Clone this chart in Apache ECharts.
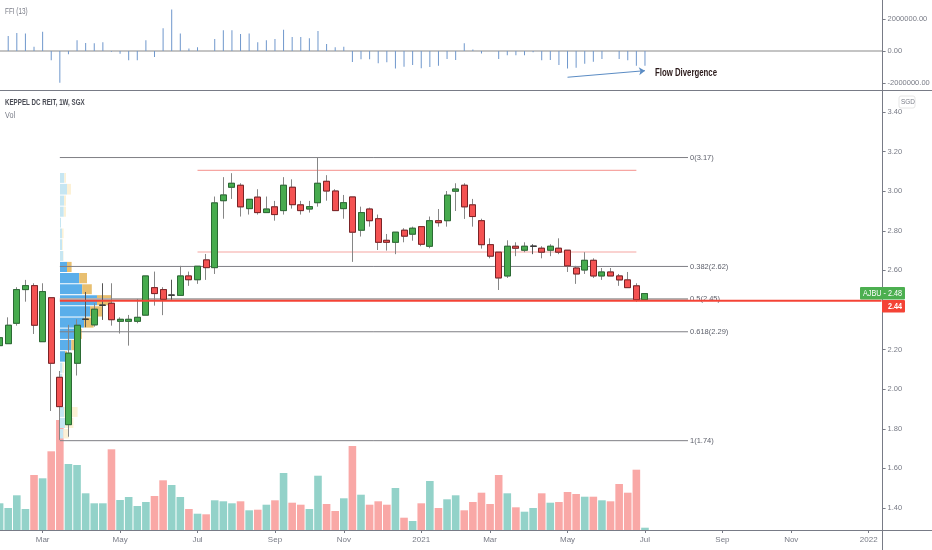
<!DOCTYPE html>
<html>
<head>
<meta charset="utf-8">
<style>
	html, body { margin: 0; padding: 0; background: #fff; }
	#chart { width: 932px; height: 550px; }
</style>
<script src="https://cdn.jsdelivr.net/npm/echarts@6/dist/echarts.min.js"></script>
</head>
<body>
<div id="chart"></div>
<script>
// week index of each month label (weeks counted from the first visible bar)
var tickWeeks = [5, 14, 23, 32, 40, 49, 57, 66, 75, 84, 92, 101];
var tickNames = ["Mar", "May", "Jul", "Sep", "Nov", "2021", "Mar", "May", "Jul", "Sep", "Nov", "2022"];
var weekCount = 103;

var priceTicks = [1.4, 1.6, 1.8, 2.0, 2.2, 2.4, 2.6, 2.8, 3.0, 3.2, 3.4];
var ffiTicks = [-2000000, 0, 2000000];

var opens = [2.220, 2.230, 2.333, 2.503, 2.523, 2.240, 2.462, 2.060, 1.821, 2.131, 2.353, 2.325, 2.424, 2.434, 2.343, 2.343, 2.343, 2.374, 2.513, 2.503, 2.475, 2.474, 2.572, 2.553, 2.653, 2.614, 2.952, 3.020, 3.030, 2.912, 2.970, 2.892, 2.921, 2.902, 3.020, 2.931, 2.910, 2.942, 3.050, 3.001, 2.912, 2.971, 2.803, 2.910, 2.861, 2.752, 2.742, 2.803, 2.783, 2.821, 2.722, 2.851, 2.851, 3.000, 3.030, 2.931, 2.851, 2.730, 2.692, 2.572, 2.722, 2.702, 2.722, 2.712, 2.702, 2.712, 2.702, 2.612, 2.602, 2.651, 2.572, 2.592, 2.572, 2.552, 2.522, 2.452];
var closes = [2.260, 2.323, 2.503, 2.523, 2.323, 2.493, 2.131, 1.912, 2.182, 2.323, 2.353, 2.404, 2.424, 2.351, 2.353, 2.353, 2.363, 2.572, 2.483, 2.454, 2.475, 2.572, 2.553, 2.621, 2.614, 2.941, 2.981, 3.040, 2.921, 2.959, 2.892, 2.910, 2.882, 3.030, 2.932, 2.902, 2.922, 3.040, 3.001, 2.902, 2.942, 2.793, 2.892, 2.851, 2.742, 2.742, 2.793, 2.773, 2.813, 2.732, 2.851, 2.841, 2.980, 3.011, 2.921, 2.872, 2.730, 2.672, 2.562, 2.722, 2.712, 2.722, 2.722, 2.692, 2.722, 2.692, 2.623, 2.582, 2.651, 2.572, 2.592, 2.572, 2.552, 2.513, 2.452, 2.483];
var lows = [2.220, 2.229, 2.321, 2.442, 2.279, 2.240, 1.890, 1.744, 1.760, 2.069, 2.313, 2.316, 2.350, 2.321, 2.281, 2.220, 2.333, 2.374, 2.422, 2.374, 2.452, 2.474, 2.522, 2.532, 2.552, 2.582, 2.861, 2.961, 2.872, 2.882, 2.882, 2.892, 2.851, 2.882, 2.912, 2.882, 2.892, 2.922, 2.952, 2.902, 2.861, 2.643, 2.771, 2.821, 2.703, 2.700, 2.682, 2.742, 2.750, 2.722, 2.712, 2.821, 2.821, 2.900, 2.860, 2.821, 2.710, 2.661, 2.501, 2.562, 2.672, 2.692, 2.682, 2.661, 2.672, 2.682, 2.592, 2.532, 2.582, 2.562, 2.552, 2.572, 2.522, 2.513, 2.442, 2.452];
var highs = [2.260, 2.363, 2.515, 2.552, 2.535, 2.535, 2.462, 2.092, 2.325, 2.353, 2.491, 2.434, 2.535, 2.535, 2.363, 2.375, 2.456, 2.572, 2.594, 2.515, 2.553, 2.623, 2.594, 2.621, 2.683, 2.973, 3.071, 3.091, 3.040, 2.959, 3.010, 2.973, 2.951, 3.071, 3.060, 2.951, 2.951, 3.170, 3.081, 3.010, 2.981, 2.971, 2.922, 2.917, 2.882, 2.784, 2.793, 2.813, 2.821, 2.821, 2.872, 2.910, 3.001, 3.040, 3.040, 2.961, 2.861, 2.762, 2.692, 2.752, 2.742, 2.742, 2.732, 2.722, 2.732, 2.762, 2.702, 2.623, 2.692, 2.661, 2.612, 2.612, 2.582, 2.592, 2.535, 2.483];

// volume in millions of units
var volumes = [2.67, 2.2, 3.47, 2.1, 5.5, 5.17, 7.87, 11.0, 6.6, 6.5, 3.67, 2.67, 2.67, 8.07, 3.0, 3.3, 2.4, 2.8, 3.4, 4.97, 4.5, 3.3, 2.1, 1.63, 1.57, 2.97, 2.87, 2.67, 2.87, 1.97, 2.03, 2.53, 2.97, 5.7, 2.73, 2.53, 2.1, 5.43, 2.6, 1.9, 3.17, 8.4, 3.53, 2.53, 2.87, 2.53, 4.2, 1.23, 0.9, 2.67, 4.9, 2.2, 3.07, 3.47, 1.97, 2.8, 3.73, 2.6, 5.5, 3.67, 2.27, 1.83, 2.2, 3.67, 2.73, 2.8, 3.8, 3.6, 3.33, 3.33, 2.97, 2.87, 4.6, 3.73, 6.03, 0.23];

var ffi = [null, 937500, 1130000, 1100000, 270000, 1210000, -580000, -1980000, -210000, 670000, 500000, 480000, 540000, -40000, -170000, -580000, -580000, 670000, -380000, 1420000, 2600000, 1100000, 150000, 230000, null, 750000, 1290000, 1290000, 1060000, 1100000, 540000, 670000, 750000, 1330000, 880000, 880000, 790000, 1250000, 440000, 230000, 270000, -690000, -520000, -520000, -770000, -710000, -1100000, -980000, -880000, -1080000, -1000000, -920000, -500000, -560000, 480000, 100000, -150000, null, -500000, -270000, -270000, -270000, -80000, -580000, -560000, -880000, -1100000, -1040000, -790000, -670000, -500000, null, -500000, -580000, -920000, -920000];

var fibNames = ["0(3.17)", "0.382(2.62)", "0.5(2.45)", "0.618(2.29)", "1(1.74)"];
var fibPrices = [3.17, 2.62, 2.455, 2.29, 1.74];
var channelPrices = [3.105, 2.693];
var supportPrice = 2.447;

// fixed range volume profile: row edges (price), up and down volume
var profileEdges = [3.092, 3.037, 2.978, 2.922, 2.866, 2.811, 2.757, 2.698, 2.643, 2.587, 2.530, 2.475, 2.419, 2.362, 2.306, 2.249, 2.192, 2.134, 2.078, 2.022, 1.966, 1.910, 1.855, 1.799, 1.746];
var profileUp = [2.2, 3.5, 2, 1.9, 0.5, 1, 1, 1.6, 3.5, 9.6, 11.1, 18.5, 15, 12, 7, 5.7, 2.5, 1.3, 1, 0.7, 0.8, 2, 2.5, 1.7];
var profileDown = [0.8, 2, 1, 1.1, 0, 0.8, 0.4, 0.2, 2.3, 3.9, 4.8, 7.4, 6.5, 4.8, 3.9, 1.3, 1, 0.7, 0.3, 0.2, 0.3, 6.8, 4.2, 2.8];
var valueAreaFirst = 8;
var valueAreaLast = 16;

var divergenceFrom = [66, -1640000];
var divergenceTo = [75, -1230000];

var AXIS_COLOR = "#787b86";
var TEXT_FONT = "'Liberation Sans', sans-serif";
var PLOT_LEFT = -4.7;
var PLOT_WIDTH = 886.3;
var PRICE_MIN = 1.2889;
var PRICE_MAX = 3.5111;

var weeks = [];
for (var w = 0; w < weekCount; w++) {
	weeks.push(w);
}

function isTickWeek(index) {
	return tickWeeks.indexOf(index) >= 0;
}

function weekLabel(value, index) {
	return tickNames[tickWeeks.indexOf(index)] || "";
}

function segment(name, from, to, price, color, width, z, label) {
	return {
		type: "line",
		name: name,
		xAxisIndex: 2,
		yAxisIndex: 1,
		data: [[from, price], [to, price]],
		symbol: "none",
		silent: true,
		clip: false,
		z: z,
		lineStyle: { color: color, width: width },
		endLabel: {
			show: !!label,
			formatter: label,
			distance: 2,
			color: "#5d606b",
			fontSize: 7.5,
			fontFamily: TEXT_FONT
		}
	};
}

function renderProfileRow(params, api) {
	var i = api.value(0);
	var top = api.coord([0, profileEdges[i]]);
	var bottom = api.coord([0, profileEdges[i + 1]]);
	var upEnd = api.coord([profileUp[i], 0])[0];
	var downEnd = api.coord([profileUp[i] + profileDown[i], 0])[0];
	var strong = i >= valueAreaFirst && i <= valueAreaLast;
	var height = bottom[1] - top[1] - 1;
	return {
		type: "group",
		children: [{
			type: "rect",
			shape: { x: top[0], y: top[1], width: upEnd - top[0], height: height },
			style: { fill: strong ? "#5aaeea" : "#c6e6f2" }
		}, {
			type: "rect",
			shape: { x: upEnd, y: top[1], width: downEnd - upEnd, height: height },
			style: { fill: strong ? "#e8bf70" : "#fcf1d6" }
		}]
	};
}

function overlayText(text, x, y, fill, font, scale) {
	return { type: "text", z: 21, x: x, y: y, scaleX: scale, style: { text: text, fill: fill, font: font + " " + TEXT_FONT } };
}

var candleData = opens.map(function (o, i) {
	return [o, closes[i], lows[i], highs[i]];
});
var bodyData = opens.map(function (o, i) {
	return [o, closes[i], Math.min(o, closes[i]), Math.max(o, closes[i])];
});
var volumeData = volumes.map(function (v, i) {
	return {
		value: v,
		itemStyle: { color: closes[i] >= opens[i] ? "#93d2c9" : "#f9a8a6" }
	};
});
var profileData = profileUp.map(function (v, i) {
	return [i];
});

var series = [{
	type: "bar",
	name: "FFI",
	xAxisIndex: 0,
	yAxisIndex: 0,
	data: ffi,
	barWidth: 1,
	itemStyle: { color: "#6f97cc" },
	markLine: {
		silent: true,
		symbol: ["none", "arrow"],
		symbolSize: 6,
		label: { show: false },
		lineStyle: { color: "#5b8cc4", width: 1, type: "solid" },
		data: [[{ coord: divergenceFrom }, { coord: divergenceTo }]]
	}
}, {
	type: "bar",
	name: "Vol",
	xAxisIndex: 3,
	yAxisIndex: 2,
	data: volumeData,
	barWidth: 7.6,
	z: 1
}, {
	type: "custom",
	name: "Volume profile",
	xAxisIndex: 4,
	yAxisIndex: 3,
	data: profileData,
	renderItem: renderProfileRow,
	encode: { x: 0 },
	clip: false,
	silent: true,
	z: 2
}, {
	type: "candlestick",
	name: "Wicks",
	xAxisIndex: 1,
	yAxisIndex: 1,
	data: candleData,
	barWidth: 6.5,
	z: 5,
	itemStyle: {
		color: "#808080",
		color0: "#808080",
		borderColor: "#868686",
		borderColor0: "#868686",
		borderColorDoji: "#555555",
		borderWidth: 1
	}
}, {
	type: "candlestick",
	name: "KEPPEL DC REIT",
	xAxisIndex: 1,
	yAxisIndex: 1,
	data: bodyData,
	barWidth: 6.5,
	z: 6,
	itemStyle: {
		color: "#47ab4e",
		color0: "#f45252",
		borderColor: "#2b6b34",
		borderColor0: "#7c2326",
		borderColorDoji: "#3a3a3a",
		borderWidth: 1
	}
}];

fibPrices.forEach(function (price, i) {
	var thick = i === 2;
	series.push(segment("fib" + i, 7, 80, price, thick ? "#b2b2b2" : "#7f7f85", thick ? 2 : 1, 3, fibNames[i]));
});
channelPrices.forEach(function (price, i) {
	series.push(segment("channel" + i, 23, 74, price, "#f6a6a2", 1.2, 3));
});
series.push(segment("support", 7, 102.5, supportPrice, "#f44336", 2, 7));

var axisLabel = { color: AXIS_COLOR, fontSize: 7.5, fontFamily: TEXT_FONT, margin: 5 };

function priceAxis(gridIndex, show) {
	return {
		type: "value",
		gridIndex: gridIndex,
		position: "right",
		offset: 1,
		min: PRICE_MIN,
		max: PRICE_MAX,
		show: show,
		scale: true,
		splitLine: { show: false },
		axisLine: { show: false, onZero: false },
		axisTick: { show: true, length: 3, lineStyle: { color: AXIS_COLOR }, customValues: priceTicks },
		axisLabel: Object.assign({}, axisLabel, {
			customValues: priceTicks,
			formatter: function (v) { return v.toFixed(2); }
		})
	};
}

function paneGrid(left, width, top, height) {
	return { left: left, width: width, top: top, height: height, outerBoundsMode: "none" };
}

var option = {
	animation: false,
	backgroundColor: "#ffffff",
	grid: [
		paneGrid(PLOT_LEFT, PLOT_WIDTH, 0, 90),
		paneGrid(PLOT_LEFT, PLOT_WIDTH, 90, 440),
		paneGrid(PLOT_LEFT, PLOT_WIDTH, 400, 130),
		paneGrid(60, 100, 90, 440)
	],
	xAxis: [{
		type: "category",
		gridIndex: 0,
		data: weeks,
		axisLine: { onZero: true, lineStyle: { color: "#c4c4c4", width: 2 } },
		axisTick: { show: false },
		axisLabel: { show: false },
		splitLine: { show: false }
	}, {
		type: "category",
		gridIndex: 1,
		data: weeks,
		show: false
	}, {
		type: "value",
		gridIndex: 1,
		min: -0.5,
		max: weekCount - 0.5,
		show: false
	}, {
		type: "category",
		gridIndex: 2,
		data: weeks,
		axisLine: { show: false },
		axisTick: { show: true, length: 3, alignWithLabel: true, interval: function (index) { return isTickWeek(index); }, lineStyle: { color: AXIS_COLOR } },
		axisLabel: {
			interval: function (index) { return isTickWeek(index); },
			formatter: weekLabel,
			color: function (value, index) { return tickNames[tickWeeks.indexOf(index)] && tickNames[tickWeeks.indexOf(index)].length === 4 ? "#4a4c55" : AXIS_COLOR; },
			fontSize: 8,
			fontFamily: TEXT_FONT,
			margin: 6,
			hideOverlap: false
		},
		splitLine: { show: false }
	}, {
		type: "value",
		gridIndex: 3,
		min: 0,
		max: 50,
		show: false
	}],
	yAxis: [{
		type: "value",
		gridIndex: 0,
		position: "right",
		offset: 1,
		min: -2437500,
		max: 3187500,
		scale: true,
		splitLine: { show: false },
		axisLine: { show: false, onZero: false },
		axisTick: { show: true, length: 3, lineStyle: { color: AXIS_COLOR }, customValues: ffiTicks },
		axisLabel: Object.assign({}, axisLabel, {
			customValues: ffiTicks,
			formatter: function (v) { return v.toFixed(2); }
		})
	}, priceAxis(1, true), {
		type: "value",
		gridIndex: 2,
		min: 0,
		max: 13,
		show: false
	}, priceAxis(3, false)],
	series: series,
	graphic: [
		{ type: "line", z: 20, shape: { x1: 0, y1: 90.5, x2: 932, y2: 90.5 }, style: { stroke: AXIS_COLOR, lineWidth: 1 } },
		{ type: "line", z: 20, shape: { x1: 0, y1: 530.5, x2: 932, y2: 530.5 }, style: { stroke: AXIS_COLOR, lineWidth: 1 } },
		{ type: "line", z: 20, shape: { x1: 882.5, y1: 0, x2: 882.5, y2: 550 }, style: { stroke: AXIS_COLOR, lineWidth: 1 } },
		overlayText("FFI (13)", 5, 7.5, AXIS_COLOR, "8.5px", 0.75),
		overlayText("KEPPEL DC REIT, 1W, SGX", 5, 98.5, "#4a4c55", "bold 8.5px", 0.73),
		overlayText("Vol", 5, 111, AXIS_COLOR, "8.5px", 0.85),
		overlayText("Flow Divergence", 655, 68, "#2b1a1a", "bold 10px", 0.78),
		{ type: "rect", z: 20, shape: { x: 899, y: 96, width: 16, height: 12, r: 2 }, style: { fill: "#ffffff", stroke: "#e6e6e6", lineWidth: 1 } },
		overlayText("SGD", 901, 98, AXIS_COLOR, "8px", 0.8),
		{ type: "rect", z: 20, shape: { x: 860, y: 287, width: 45, height: 12.5, r: 1 }, style: { fill: "#4caf50" } },
		overlayText("AJBU - 2.48", 863, 289, "#ffffff", "8.5px", 0.85),
		{ type: "rect", z: 20, shape: { x: 882, y: 300, width: 23, height: 12.5, r: 1 }, style: { fill: "#f44336" } },
		overlayText("2.44", 888, 302, "#ffffff", "bold 8.5px", 0.85)
	]
};

var chart = echarts.init(document.getElementById("chart"));
chart.setOption(option);
</script>
</body>
</html>
